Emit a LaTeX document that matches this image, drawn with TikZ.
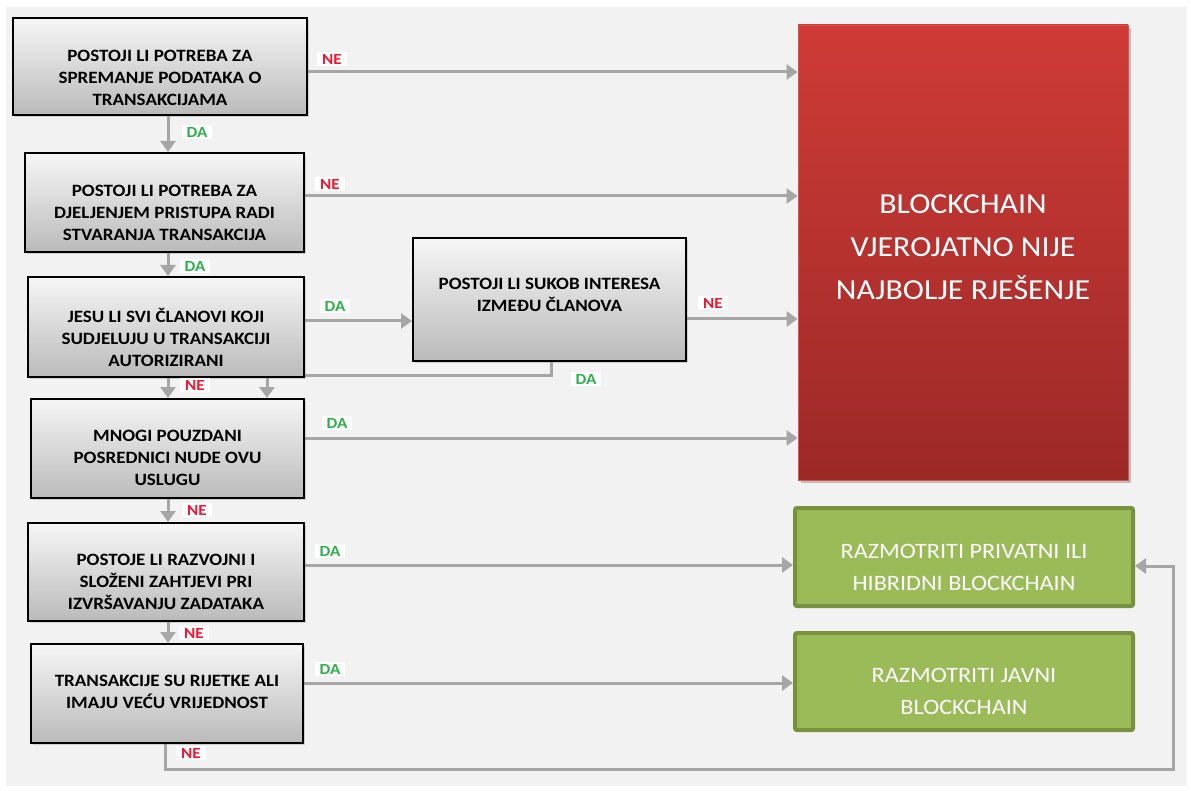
\documentclass[tikz,border=0pt]{standalone}
\usepackage{fontspec}
\setmainfont{Carlito}[FakeStretch=1.1]
\usetikzlibrary{arrows.meta,shadows}
\pgfdeclarelayer{bglayer}
\pgfdeclarelayer{linelayer}
\pgfsetlayers{bglayer,linelayer,main}
\definecolor{bggray}{HTML}{F2F2F2}
\definecolor{arrgray}{HTML}{A6A6A6}
\definecolor{nered}{HTML}{F0162F}
\definecolor{dagreen}{HTML}{2DB04B}
\definecolor{boxtop}{HTML}{F6F6F6}
\definecolor{boxbot}{HTML}{BABABA}
\definecolor{redtop}{HTML}{CF3B37}
\definecolor{redbot}{HTML}{9C2927}
\definecolor{redline}{HTML}{D9534E}
\definecolor{grfill}{HTML}{9BBB59}
\definecolor{grdraw}{HTML}{76923C}
\begin{document}
\begin{tikzpicture}[x=1pt,y=-1pt,
  qbox/.style={rectangle, draw=black, line width=2pt, top color=boxtop, bottom color=boxbot,
    drop shadow={shadow xshift=2pt, shadow yshift=-2pt, opacity=0.3}, inner sep=0pt},
  qtext/.style={font=\bfseries\fontsize{17.3}{22}\selectfont, align=center, text=black, inner sep=0pt},
  redbox/.style={rectangle, top color=redtop, bottom color=redbot, draw=redline, line width=0.8pt,
    drop shadow={shadow xshift=3pt, shadow yshift=-3pt, opacity=0.45}, inner sep=0pt},
  redtext/.style={font=\fontsize{29}{43}\selectfont, align=center, text=white, inner sep=0pt},
  gbox/.style={rectangle, rounded corners=2pt, fill=grfill, draw=grdraw, line width=4pt,
    drop shadow={shadow xshift=1.5pt, shadow yshift=-1.5pt, opacity=0.25}, inner sep=0pt},
  gtext/.style={font=\fontsize{22}{32}\selectfont, align=center, text=white, inner sep=0pt},
  lab/.style={fill=white, inner xsep=5pt, inner ysep=1.5pt, font=\bfseries\fontsize{15.5}{15.5}\selectfont},
  nelab/.style={lab, text=nered},
  dalab/.style={lab, text=dagreen},
  arr/.style={draw=arrgray, line width=3pt, -{Triangle[length=11pt,width=15pt]}},
  ln/.style={draw=arrgray, line width=3pt}
]
\useasboundingbox (0,0) rectangle (1191,791);
\begin{pgfonlayer}{bglayer}
  \fill[white] (0,0) rectangle (1191,791);
  \fill[bggray] (6,7) rectangle (1187,786);
\end{pgfonlayer}

% question boxes
\node[qbox, minimum width=294pt, minimum height=97pt] (b1) at (160,66.5) {};
\node[qtext] (t1) at (160,78) {POSTOJI LI POTREBA ZA\\SPREMANJE PODATAKA O\\TRANSAKCIJAMA};
\node[qbox, minimum width=279pt, minimum height=99pt] (b2) at (164.5,202.5) {};
\node[qtext] (t2) at (164.5,213) {POSTOJI LI POTREBA ZA\\DJELJENJEM PRISTUPA RADI\\STVARANJA TRANSAKCIJA};
\node[qbox, minimum width=276pt, minimum height=100pt] (b3) at (166,327) {};
\node[qtext] (t3) at (166,337) {JESU LI SVI ČLANOVI KOJI\\SUDJELUJU U TRANSAKCIJI\\AUTORIZIRANI};
\node[qbox, minimum width=273pt, minimum height=99pt] (b4) at (167.5,448.5) {};
\node[qtext] (t4) at (167.5,458) {MNOGI POUZDANI\\POSREDNICI NUDE OVU\\USLUGU};
\node[qbox, minimum width=276pt, minimum height=98pt] (b5) at (166,572) {};
\node[qtext] (t5) at (166,582) {POSTOJE LI RAZVOJNI I\\SLOŽENI ZAHTJEVI PRI\\IZVRŠAVANJU ZADATAKA};
\node[qbox, minimum width=272pt, minimum height=99pt] (b6) at (167,693.5) {};
\node[qtext] (t6) at (167,691.5) {TRANSAKCIJE SU RIJETKE ALI\\IMAJU VEĆU VRIJEDNOST};
\node[qbox, minimum width=273pt, minimum height=123pt] (s) at (549.5,299.5) {};
\node[qtext] (ts) at (549.5,294.5) {POSTOJI LI SUKOB INTERESA\\IZMEĐU ČLANOVA};

% result boxes
\node[redbox, minimum width=330pt, minimum height=455pt] (red) at (963,252.5) {};
\node[redtext] (tred) at (963,247) {BLOCKCHAIN\\VJEROJATNO NIJE\\NAJBOLJE RJEŠENJE};
\node[gbox, minimum width=338pt, minimum height=98pt] (g1) at (964,557) {};
\node[gtext] (tg1) at (964,567) {RAZMOTRITI PRIVATNI ILI\\HIBRIDNI BLOCKCHAIN};
\node[gbox, minimum width=338pt, minimum height=97pt] (g2) at (964,681.5) {};
\node[gtext] (tg2) at (964,691.5) {RAZMOTRITI JAVNI\\BLOCKCHAIN};

\coordinate (sturn) at (267,376);
\coordinate (loopc) at (1173,769);

\begin{pgfonlayer}{linelayer}
  \draw[arr] ([yshift=-5.5pt]b1.east) -- ([yshift=-5.5pt]b1.east -| red.west);
  \draw[arr] ([xshift=8pt]b1.south) -- ([xshift=8pt]b1.south |- b2.north);
  \draw[arr] ([yshift=6.5pt]b2.east) -- ([yshift=6.5pt]b2.east -| red.west);
  \draw[arr] ([xshift=3.5pt]b2.south) -- ([xshift=3.5pt]b2.south |- b3.north);
  \draw[arr] ([yshift=6pt]b3.east) -- ([yshift=6pt]b3.east -| s.west);
  \draw[arr] ([yshift=-19.5pt]s.east) -- ([yshift=-19.5pt]s.east -| red.west);
  \draw[arr] ([xshift=1.5pt]s.south) |- (sturn) -- (sturn |- b4.north);
  \draw[arr] ([xshift=2pt]b3.south) -- ([xshift=2pt]b3.south |- b4.north);
  \draw[arr] ([yshift=10.5pt]b4.east) -- ([yshift=10.5pt]b4.east -| red.west);
  \draw[arr] ([xshift=0.5pt]b4.south) -- ([xshift=0.5pt]b4.south |- b5.north);
  \draw[arr] ([yshift=7pt]b5.east) -- ([yshift=7pt]b5.east -| g1.west);
  \draw[arr] ([xshift=2pt]b5.south) -- ([xshift=2pt]b5.south |- b6.north);
  \draw[arr] ([yshift=10.5pt]b6.east) -- ([yshift=10.5pt]b6.east -| g2.west);
  \draw[arr] ([xshift=-2pt]b6.south) |- (loopc) |- ([yshift=-9pt]g1.east);
\end{pgfonlayer}

% labels
\node[nelab] (l1) at (332,59) {NE};
\node[dalab] (l2) at (197,132) {DA};
\node[nelab] (l3) at (330,184) {NE};
\node[dalab] (l4) at (195,266) {DA};
\node[dalab] (l5) at (335,306) {DA};
\node[nelab] (l6) at (195,385) {NE};
\node[dalab] (l7) at (337,423) {DA};
\node[nelab] (l8) at (197,510) {NE};
\node[dalab] (l9) at (330,551) {DA};
\node[nelab] (l10) at (194,633) {NE};
\node[dalab] (l11) at (330,669) {DA};
\node[nelab] (l12) at (191,753) {NE};
\node[nelab] (l13) at (713,303) {NE};
\node[dalab] (l14) at (586,379) {DA};
\end{tikzpicture}
\end{document}
